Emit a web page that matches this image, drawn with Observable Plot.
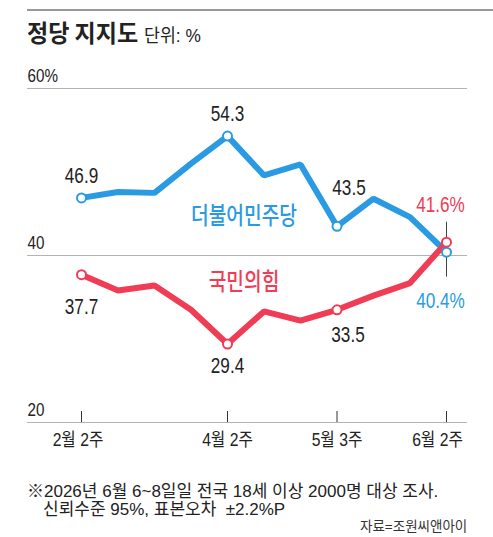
<!DOCTYPE html>
<html>
<head>
<meta charset="utf-8">
<script src="https://cdn.jsdelivr.net/npm/d3@7"></script>
<script src="https://cdn.jsdelivr.net/npm/@observablehq/plot@0.6"></script>
<style>
  html, body { margin: 0; padding: 0; background: #fff; }
  #wrap { position: relative; width: 493px; height: 537px; overflow: hidden;
          font-family: "Liberation Sans", "Noto Sans CJK KR", sans-serif; color: #222; }
  .abs { position: absolute; white-space: nowrap; line-height: 1; transform-origin: 0 50%; }
  #topbar { position: absolute; top: 9px; left: 27px; right: 0; height: 2px; background: #999; }
  #title { left: 27px; top: 20px; font-family: "Noto Sans CJK KR", sans-serif; font-weight: 700; font-size: 24px; transform: scaleX(0.96); }
  #title span { font-family: "Liberation Sans", "Noto Sans CJK KR", sans-serif; font-weight: 400; font-size: 18px; margin-left: 6px; }
  #chart { position: absolute; left: 0; top: 56px; }
  #note1 { left: 27px; top: 483px; font-size: 17px; }
  #note2 { left: 43px; top: 501px; font-size: 17px; }
  #source { left: 360px; top: 520px; font-size: 13.5px; color: #333; }
</style>
</head>
<body>
<div id="wrap">
  <div id="topbar"></div>
  <div id="title" class="abs">정당 지지도<span>단위: %</span></div>
  <div id="chart"></div>
  <div id="note1" class="abs">※2026년 6월 6~8일일 전국 18세 이상 2000명 대상 조사.</div>
  <div id="note2" class="abs">신뢰수준 95%, 표본오차&nbsp; ±2.2%P</div>
  <div id="source" class="abs">자료=조원씨앤아이</div>
</div>
<script>
// ---- data ----
const weeks = [0, 1, 2, 3, 4, 5, 6, 7, 8, 9, 10];
const democratic = [46.9, 47.6, 47.5, 51.0, 54.3, 49.6, 50.9, 43.5, 46.8, 44.6, 40.4];
const ppp = [37.7, 35.8, 36.4, 33.5, 29.4, 33.3, 32.2, 33.5, 35.2, 36.7, 41.6];
const xTickIdx = [0, 4, 7, 10];
const xTickLabels = ["2월 2주", "4월 2주", "5월 3주", "6월 2주"];
const yTicks = [20, 40, 60];
const yTickLabels = ["20", "40", "60%"];
const markedIdx = [0, 4, 7, 10];
const seriesNames = ["더불어민주당", "국민의힘"];

const BLUE = "#2a9be2";
const RED = "#f03c55";
const NUM_FONT = "'Liberation Sans', 'Noto Sans CJK KR', sans-serif";
const KR_FONT = "'Noto Sans CJK KR', sans-serif";

// horizontal condensing per font size (the reference uses a condensed typeface)
const condense = {"22": 0.78, "24": 0.8, "19": 0.8, "18.5": 0.85};

const blueData = weeks.map((w, i) => ({w, v: democratic[i]}));
const redData = weeks.map((w, i) => ({w, v: ppp[i]}));
const blueMarked = markedIdx.map(i => blueData[i]);
const redMarked = markedIdx.map(i => redData[i]);
const xTicks = xTickIdx.map((x, i) => ({x, label: xTickLabels[i]}));
const fmt = v => v.toFixed(1);

function numLabel(d, opts) {
  return Plot.text([d], {x: "w", y: "v", text: opts.text ?? (p => fmt(p.v)), fill: opts.fill ?? "#222",
    dx: opts.dx ?? 0, dy: opts.dy, fontSize: 22, fontFamily: NUM_FONT});
}
function xLabel(data, dx) {
  return Plot.text(data, {x: "x", text: "label", frameAnchor: "bottom", dy: 23, dx,
    fontSize: 18.5, fill: "#222", fontFamily: NUM_FONT});
}

const plot = Plot.plot({
  width: 493,
  height: 406,
  marginTop: 32,
  marginBottom: 40,
  marginLeft: 27,
  marginRight: 26,
  x: {type: "linear", domain: [0, 10], insetLeft: 54, insetRight: 21, axis: null},
  y: {domain: [20, 60], axis: null},
  marks: [
    Plot.ruleY(yTicks, {stroke: "#b3b3b3", strokeWidth: 1}),
    Plot.text(yTicks, {y: d => d, text: (d, i) => yTickLabels[i], frameAnchor: "left", textAnchor: "start",
      dy: -13, fontSize: 19, fill: "#222", fontFamily: NUM_FONT}),
    Plot.ruleX(xTickIdx, {x: d => d, stroke: "#333", strokeWidth: 1, insetTop: 323}),
    xLabel(xTicks.slice(0, 1), -3.5),
    xLabel(xTicks.slice(1, 3), 0),
    xLabel(xTicks.slice(3), -9),
    // connector for the latest values
    Plot.ruleX([{w: weeks[10], a: democratic[10], b: ppp[10]}], {x: "w", y1: "a", y2: "b",
      stroke: "#444", strokeWidth: 1, insetTop: -30, insetBottom: -35}),
    Plot.line(blueData, {x: "w", y: "v", stroke: BLUE, strokeWidth: 6, strokeLinejoin: "miter"}),
    Plot.line(redData, {x: "w", y: "v", stroke: RED, strokeWidth: 6, strokeLinejoin: "miter"}),
    Plot.dot(blueMarked, {x: "w", y: "v", r: 4.5, fill: "white", stroke: BLUE, strokeWidth: 2}),
    Plot.dot(redMarked, {x: "w", y: "v", r: 4.5, fill: "white", stroke: RED, strokeWidth: 2}),
    numLabel(blueData[0], {dy: -22}),
    numLabel(blueData[4], {dy: -22}),
    numLabel(blueData[7], {dx: 12, dy: -38}),
    numLabel(redData[0], {dy: 32}),
    numLabel(redData[4], {dy: 22}),
    numLabel(redData[7], {dx: 11, dy: 25}),
    numLabel(redData[10], {text: p => fmt(p.v) + "%", fill: RED, dx: -6, dy: -37}),
    numLabel(blueData[10], {text: p => fmt(p.v) + "%", fill: BLUE, dx: -6, dy: 49}),
    Plot.text([blueData[5]], {x: "w", y: "v", text: () => seriesNames[0], fill: BLUE, dx: -20, dy: 41,
      fontSize: 24, fontWeight: 500, fontFamily: KR_FONT}),
    Plot.text([redData[5]], {x: "w", y: "v", text: () => seriesNames[1], fill: RED, dx: -20, dy: -29,
      fontSize: 24, fontWeight: 500, fontFamily: KR_FONT})
  ]
});
// apply horizontal condensing to text marks
plot.querySelectorAll("g[font-size]").forEach(g => {
  const k = condense[g.getAttribute("font-size")];
  if (!k) return;
  g.querySelectorAll("text").forEach(t => {
    const tr = t.getAttribute("transform") || "";
    t.setAttribute("transform", tr + ` scale(${k},1)`);
  });
});
document.getElementById("chart").appendChild(plot);
</script>
</body>
</html>
